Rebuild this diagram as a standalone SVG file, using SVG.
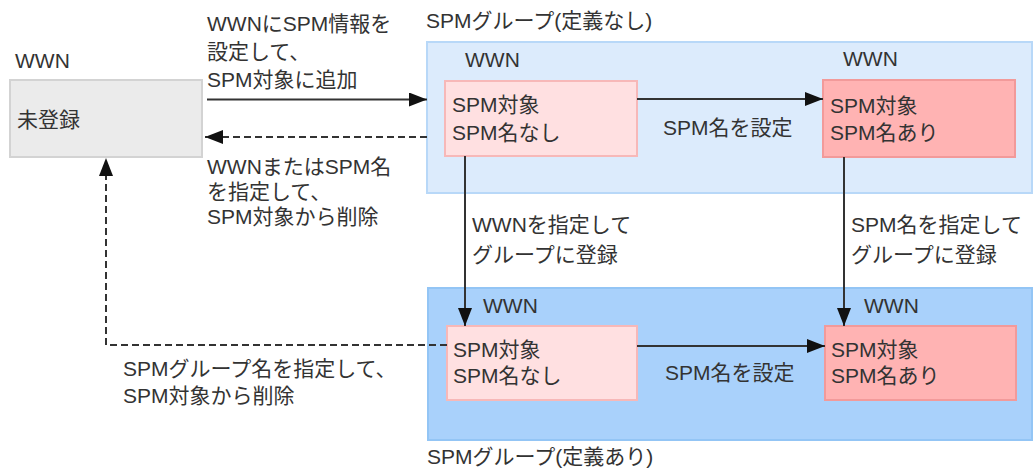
<svg xmlns="http://www.w3.org/2000/svg" width="1034" height="471" viewBox="0 0 1034 471">
<style>
text{font-family:"Liberation Sans","Noto Sans CJK JP",sans-serif;font-size:21px;fill:#333}
.grp1{fill:#dcebfc;stroke:#b8d8f8;stroke-width:2}
.grp2{fill:#a9d1fb;stroke:#93c5f5;stroke-width:2}
.pk1{fill:#ffe0e1;stroke:#f7b8b8;stroke-width:2}
.pk2{fill:#ffb3b3;stroke:#f29a9a;stroke-width:2}
.gray{fill:#ebebeb;stroke:#d3d3d3;stroke-width:2}
.ln{fill:none;stroke:#333;stroke-width:2}
.dash{stroke-dasharray:7 4}
</style>
<defs>
<marker id="ah" markerUnits="userSpaceOnUse" markerWidth="20" markerHeight="14" refX="18" refY="7" orient="auto">
<path d="M0,0 L18,7 L0,14 Z" fill="#111"/>
</marker>
</defs>
<g id="group-undefined">
<rect class="grp1" x="427" y="42" width="605" height="151"/>
<text x="426" y="28">SPMグループ(定義なし)</text>
</g>
<g id="group-defined">
<rect class="grp2" x="428" y="288" width="604" height="152"/>
<text x="427" y="464">SPMグループ(定義あり)</text>
</g>
<g id="unregistered">
<text x="15" y="68">WWN</text>
<rect class="gray" x="10" y="80" width="192" height="77"/>
<text x="17" y="127">未登録</text>
</g>
<g id="top-noname">
<text x="465" y="67">WWN</text>
<rect class="pk1" x="445" y="81" width="192" height="75"/>
<text x="452" y="112">SPM対象</text>
<text x="452" y="140">SPM名なし</text>
</g>
<g id="top-named">
<text x="843" y="66">WWN</text>
<rect class="pk2" x="823" y="80" width="192" height="77"/>
<text x="830" y="113">SPM対象</text>
<text x="830" y="140">SPM名あり</text>
</g>
<g id="bottom-noname">
<text x="483" y="313">WWN</text>
<rect class="pk1" x="447" y="326" width="190" height="74"/>
<text x="453" y="357">SPM対象</text>
<text x="453" y="383">SPM名なし</text>
</g>
<g id="bottom-named">
<text x="864" y="313">WWN</text>
<rect class="pk2" x="825" y="326" width="191" height="74"/>
<text x="831" y="357">SPM対象</text>
<text x="831" y="383">SPM名あり</text>
</g>
<g id="connectors">
<line class="ln" x1="207" y1="99.5" x2="427" y2="99.5" marker-end="url(#ah)"/>
<line class="ln dash" x1="427" y1="137" x2="205" y2="137" marker-end="url(#ah)"/>
<line class="ln" x1="637" y1="99" x2="823" y2="99" marker-end="url(#ah)"/>
<line class="ln" x1="465" y1="156" x2="465" y2="326" marker-end="url(#ah)"/>
<line class="ln" x1="844" y1="157" x2="844" y2="326" marker-end="url(#ah)"/>
<line class="ln" x1="637" y1="346" x2="825" y2="346" marker-end="url(#ah)"/>
<polyline class="ln dash" points="447,345 106,345 106,158" marker-end="url(#ah)"/>
</g>
<g id="labels">
<text x="207" y="31">WWNにSPM情報を</text>
<text x="207" y="59">設定して、</text>
<text x="207" y="87">SPM対象に追加</text>
<text x="207" y="174">WWNまたはSPM名</text>
<text x="207" y="199">を指定して、</text>
<text x="207" y="224">SPM対象から削除</text>
<text x="663" y="135">SPM名を設定</text>
<text x="665" y="380">SPM名を設定</text>
<text x="472" y="232">WWNを指定して</text>
<text x="472" y="262">グループに登録</text>
<text x="851" y="232">SPM名を指定して</text>
<text x="851" y="262">グループに登録</text>
<text x="123" y="376">SPMグループ名を指定して、</text>
<text x="123" y="403">SPM対象から削除</text>
</g>
</svg>
